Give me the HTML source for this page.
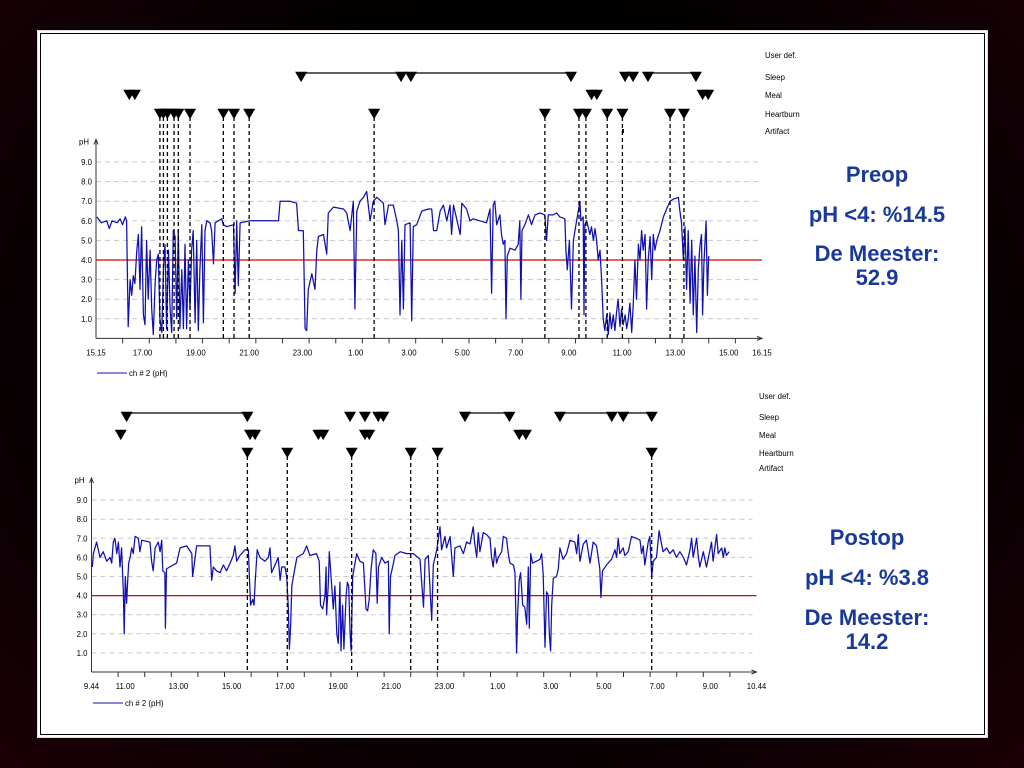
<!DOCTYPE html>
<html><head><meta charset="utf-8">
<style>
html,body{margin:0;padding:0;width:1024px;height:768px;overflow:hidden;background:#000;}
#bg{position:absolute;left:0;top:0;width:1024px;height:768px;background:radial-gradient(ellipse at 50% 45%, #000 55%, #1c0007 100%);}
#panel{position:absolute;left:37px;top:30px;width:949px;height:706px;background:#fff;border:1px solid #ddd;}
#inner{position:absolute;left:2px;top:2px;right:2px;bottom:2px;border:1px solid #000;}
svg{position:absolute;left:0;top:0;}
text{font-family:"Liberation Sans",sans-serif;}
.sm{font-size:7.8px;fill:#000;}
.big{font-size:22px;font-weight:bold;fill:#1a3a99;text-anchor:middle;}
</style></head>
<body>
<div id="bg"></div>
<div id="panel"><div id="inner"></div></div>
<svg id="chart" width="1024" height="768">
<text class="big" x="877" y="182">Preop</text>
<text class="big" x="877" y="222">pH &lt;4: %14.5</text>
<text class="big" x="877" y="261">De Meester:</text>
<text class="big" x="877" y="285">52.9</text>
<text class="big" x="867" y="545">Postop</text>
<text class="big" x="867" y="585">pH &lt;4: %3.8</text>
<text class="big" x="867" y="625">De Meester:</text>
<text class="big" x="867" y="649">14.2</text>
</svg>
<script>
// ---- Preop data (hours since 15:15) ----
const preT = [0.03,0.2,0.4,0.5,0.6,0.8,0.9,1.0,1.1,1.15,1.21,1.28,1.34,1.40,1.46,1.53,1.59,1.65,1.71,1.78,1.84,1.90,1.96,2.03,2.09,2.15,2.22,2.28,2.34,2.40,2.47,2.53,2.59,2.65,2.72,2.78,2.84,2.90,2.97,3.03,3.09,3.15,3.22,3.28,3.34,3.40,3.47,3.53,3.59,3.65,3.72,3.78,3.84,3.90,3.97,4.03,4.09,4.16,4.28,4.34,4.41,4.47,4.59,4.72,4.78,4.91,5.16,5.22,5.28,5.34,5.41,5.78,6.28,6.66,6.85,6.91,7.28,7.53,7.60,7.78,7.85,7.91,7.97,8.10,8.22,8.29,8.35,8.54,8.66,8.72,8.91,9.29,9.41,9.54,9.66,9.72,9.79,9.91,10.04,10.16,10.29,10.41,10.54,10.79,10.85,10.98,11.16,11.29,11.35,11.41,11.48,11.54,11.60,11.79,11.85,11.91,12.04,12.23,12.48,12.60,12.67,12.79,12.92,13.04,13.17,13.29,13.35,13.42,13.67,13.73,13.91,14.04,14.16,14.66,14.79,14.85,14.91,14.97,15.04,15.16,15.22,15.29,15.35,15.39,15.44,15.54,15.73,15.85,15.91,15.95,15.99,16.10,16.23,16.35,16.48,16.66,16.85,16.91,16.98,17.16,17.29,17.41,17.60,17.64,17.69,17.77,17.85,17.92,18.04,18.17,18.20,18.29,18.32,18.35,18.42,18.54,18.60,18.67,18.73,18.79,18.85,18.92,18.98,19.04,19.10,19.17,19.23,19.29,19.35,19.42,19.48,19.54,19.60,19.67,19.73,19.79,19.86,19.92,19.98,20.04,20.11,20.17,20.23,20.29,20.36,20.42,20.48,20.54,20.61,20.67,20.73,20.80,20.86,20.92,20.98,21.05,21.17,21.30,21.42,21.55,21.67,21.86,21.92,21.98,22.05,22.11,22.17,22.23,22.30,22.36,22.42,22.48,22.55,22.61,22.67,22.73,22.77,22.82,22.90,22.95,23.00];
const prePH = [6.2,5.9,6.0,5.6,6.0,5.9,6.1,5.8,6.2,6.0,0.6,3.0,2.2,3.2,2.8,4.5,5.3,2.5,5.7,1.2,0.7,5.0,2.0,4.5,1.5,0.2,2.8,4.0,4.3,1.0,0.3,3.5,4.8,0.5,4.5,1.5,0.3,5.5,5.2,1.0,5.5,0.5,3.5,0.5,4.8,0.5,4.0,1.5,4.5,5.5,0.8,5.0,0.4,3.5,5.8,0.8,5.5,6.0,5.9,5.5,3.8,5.9,6.0,6.1,5.8,5.7,5.8,2.3,6.0,2.7,5.9,6.0,6.0,6.0,6.0,7.0,7.0,6.9,5.5,5.5,0.5,0.4,2.5,3.3,2.5,4.5,5.2,5.3,4.3,6.4,6.7,6.6,6.4,5.5,7.0,1.5,6.5,7.0,7.2,7.5,6.0,7.0,7.2,6.9,5.8,6.8,6.8,6.0,5.5,1.2,5.0,1.5,5.8,5.9,0.9,5.7,5.8,6.5,6.6,6.6,5.5,5.5,6.5,6.8,6.0,6.8,5.3,6.8,5.3,6.9,6.6,6.0,6.1,5.9,6.6,2.3,6.8,7.0,5.8,6.3,5.3,4.8,5.0,1.0,4.2,4.6,4.5,4.8,6.0,2.0,5.5,5.8,6.3,5.8,6.3,6.4,6.3,5.0,6.3,6.3,6.4,6.2,6.1,4.5,3.5,5.0,1.5,5.0,6.0,7.0,6.0,6.2,1.2,5.8,6.0,5.3,5.7,5.0,5.6,5.0,4.0,4.5,3.0,1.0,0.4,1.2,0.2,1.3,0.5,1.2,0.4,1.3,2.0,0.6,1.5,0.7,1.2,0.5,1.0,1.8,0.3,1.8,4.0,2.0,4.8,4.0,5.5,4.5,5.3,1.5,4.0,5.2,3.0,5.3,4.5,5.0,5.5,6.2,6.6,7.0,7.1,7.2,6.5,5.9,4.0,5.7,2.5,5.5,1.8,5.0,1.2,4.2,0.3,3.5,4.7,5.3,1.2,3.8,6.0,2.2,4.2];
const preSleep = [7.70,11.45,11.82,17.83,19.86,20.16,20.72,22.52];
const preSleepSpans = [[7.70,11.45],[11.82,17.83],[20.72,22.52]];
const preMeal = [1.25,1.46,18.6,18.8,22.77,22.98];
const preHeartburn = [2.40,2.53,2.68,2.93,3.09,3.53,4.78,5.18,5.75,10.44,16.85,18.13,18.39,19.19,19.76,21.55,22.07];
const preArtifact = [19.78];
const preTickLabels = ["15.15","17.00","19.00","21.00","23.00","1.00","3.00","5.00","7.00","9.00","11.00","13.00","15.00","16.15"];
const preTickHours = [0,1.75,3.75,5.75,7.75,9.75,11.75,13.75,15.75,17.75,19.75,21.75,23.75,25];

// ---- Postop data (hours since 9:44) ----
const postT = [0.03,0.07,0.19,0.32,0.44,0.57,0.70,0.76,0.82,0.88,0.95,1.01,1.07,1.13,1.20,1.23,1.27,1.32,1.36,1.40,1.45,1.51,1.57,1.64,1.76,1.82,1.89,2.20,2.26,2.32,2.39,2.51,2.58,2.64,2.68,2.76,2.78,2.82,2.94,3.20,3.33,3.58,3.77,3.80,3.85,3.95,4.45,4.52,4.58,4.70,4.83,4.96,5.08,5.21,5.33,5.39,5.46,5.58,5.77,5.90,5.94,5.98,6.06,6.11,6.16,6.23,6.33,6.52,6.65,6.71,6.77,6.90,7.02,7.09,7.15,7.27,7.34,7.40,7.44,7.49,7.53,7.59,7.72,7.96,8.09,8.21,8.46,8.56,8.61,8.69,8.78,8.82,8.84,8.90,8.94,9.03,9.09,9.15,9.22,9.28,9.34,9.38,9.44,9.49,9.57,9.62,9.67,9.72,9.76,9.82,9.88,9.97,10.09,10.22,10.32,10.38,10.44,10.51,10.59,10.69,10.74,10.79,10.91,11.03,11.16,11.19,11.24,11.32,11.41,11.60,11.85,12.10,12.35,12.48,12.54,12.66,12.79,12.85,12.98,13.10,13.16,13.29,13.35,13.48,13.60,13.66,13.85,13.98,14.10,14.23,14.35,14.41,14.48,14.54,14.60,14.73,14.85,14.98,15.04,15.10,15.17,15.23,15.29,15.42,15.48,15.60,15.67,15.73,15.86,15.92,15.98,16.02,16.08,16.13,16.21,16.29,16.36,16.42,16.46,16.51,16.58,16.73,16.86,16.92,16.98,17.05,17.11,17.17,17.21,17.26,17.30,17.36,17.48,17.55,17.61,17.73,17.86,17.99,18.17,18.24,18.30,18.36,18.49,18.61,18.74,18.86,18.99,19.05,19.11,19.15,19.21,19.36,19.55,19.68,19.74,19.80,19.86,19.99,20.05,20.18,20.30,20.49,20.62,20.68,20.74,20.80,20.93,20.99,21.06,21.12,21.24,21.34,21.43,21.49,21.62,21.74,21.87,21.99,22.12,22.25,22.37,22.50,22.56,22.62,22.75,22.81,22.87,23.00,23.12,23.25,23.31,23.37,23.50,23.56,23.69,23.75,23.81,23.87,23.97];
const postPH = [5.5,6.2,6.8,6.0,6.3,5.8,6.0,5.7,6.8,7.0,6.2,6.8,5.5,6.5,4.1,2.0,5.0,3.6,4.8,5.7,6.0,6.5,6.2,7.1,7.0,6.3,6.9,6.8,5.8,5.3,6.5,6.8,6.3,6.9,5.3,5.2,2.3,5.4,5.5,5.7,6.5,6.6,6.2,5.0,5.5,6.6,6.6,4.8,5.5,5.3,5.2,5.6,5.3,5.7,6.1,6.6,5.8,6.1,6.4,6.4,4.8,3.5,3.8,3.5,4.9,6.4,6.0,5.8,6.0,6.5,5.2,5.6,6.0,4.8,5.5,5.5,5.0,3.4,1.2,2.5,4.5,5.0,6.0,6.2,6.6,6.1,6.2,5.8,3.5,3.3,4.0,5.5,3.0,4.5,6.3,4.5,3.3,4.5,2.0,1.5,4.7,1.1,3.5,1.2,4.0,4.7,4.5,2.0,1.1,5.0,5.5,6.2,5.8,5.7,3.3,3.2,3.8,5.4,6.4,6.2,3.6,5.5,6.0,5.7,5.8,2.0,5.0,5.5,6.1,6.3,6.2,6.2,5.9,3.4,5.9,6.1,2.7,5.6,6.4,7.6,6.4,7.1,6.5,7.1,5.0,6.5,6.6,6.2,6.8,6.7,7.6,6.7,6.0,7.3,6.3,7.3,7.2,7.0,6.0,5.5,6.5,5.7,6.0,6.3,7.1,7.0,6.2,5.7,5.6,5.2,1.0,3.0,4.8,5.2,3.5,3.4,2.5,5.5,2.3,6.2,5.7,5.8,5.9,6.2,5.1,1.3,4.2,4.0,2.0,1.1,3.5,4.9,5.0,5.4,6.5,5.9,6.2,6.9,6.8,6.2,7.2,5.8,6.7,6.9,5.7,6.8,6.6,6.0,5.4,3.9,5.3,5.6,5.9,6.4,6.0,7.0,6.2,6.5,6.1,6.3,7.1,7.0,6.9,6.2,6.6,5.6,6.8,7.1,5.0,5.8,6.0,7.4,6.7,6.3,6.5,6.2,6.4,6.0,6.3,6.0,5.6,6.4,7.0,6.0,7.0,6.1,5.5,6.3,5.5,6.4,6.8,5.8,7.2,6.2,6.5,6.0,6.5,6.1,6.3];
const postSleep = [1.32,5.86,9.72,10.28,10.78,10.97,14.04,15.71,17.61,19.56,19.99,21.06];
const postSleepSpans = [[1.32,5.86],[14.04,15.71],[17.61,19.56],[19.99,21.06]];
const postMeal = [1.10,5.96,6.15,8.53,8.71,10.28,10.44,16.08,16.33];
const postHeartburn = [5.86,7.36,9.78,12.0,13.01,21.06];
const postArtifact = [];
const postTickLabels = ["9.44","11.00","13.00","15.00","17.00","19.00","21.00","23.00","1.00","3.00","5.00","7.00","9.00","10.44"];
const postTickHours = [0,1.267,3.267,5.267,7.267,9.267,11.267,13.267,15.267,17.267,19.267,21.267,23.267,25];

const phTicks = [1,2,3,4,5,6,7,8,9];
const phTickLabels = ["1.0","2.0","3.0","4.0","5.0","6.0","7.0","8.0","9.0"];
const rowLabels = ["User def.","Sleep","Meal","Heartburn","Artifact"];

const NS = "http://www.w3.org/2000/svg";
const svg = document.getElementById('chart');
function mk(tag, attrs, parent){ const e=document.createElementNS(NS,tag); for(const k in attrs) e.setAttribute(k,attrs[k]); (parent||svg).appendChild(e); return e; }

function drawChart(cfg){
  const g = mk('g',{});
  
  
  const X = t => cfg.x0 + t*cfg.pxh;
  const Y = p => cfg.y0 - p*cfg.pxp;
  const xEnd = X(25);
  phTicks.forEach((p,i)=>{
    const l = mk('line',{x1:cfg.x0,x2:xEnd-4,y1:Y(p),y2:Y(p),stroke:'#c8c8c8','stroke-width':1,'stroke-dasharray':'5,4'},g);
    
    
    const tx = mk('text',{x:cfg.x0-4,y:Y(p)+3,'text-anchor':'end',class:'sm'},g);
    tx.textContent = phTickLabels[i];
    
    
  });
  const pl = mk('text',{x:cfg.x0-17,y:Y(10)+2,class:'sm'},g); pl.textContent='pH';
  
  
  const ya = mk('path',{d:`M${cfg.x0},${cfg.y0} V${Y(10)-3} M${cfg.x0-2},${Y(10)+2} L${cfg.x0},${Y(10)-3} L${cfg.x0+2},${Y(10)+2}`,stroke:'#333',fill:'none','stroke-width':1},g);
  
  
  const xa = mk('path',{d:`M${cfg.x0},${cfg.y0} H${xEnd} M${xEnd-5},${cfg.y0-2} L${xEnd},${cfg.y0} L${xEnd-5},${cfg.y0+2}`,stroke:'#333',fill:'none','stroke-width':1},g);
  
  
  for(let h=Math.ceil(cfg.firstWhole); X(h)<xEnd-3; h+=1){
    const tk = mk('line',{x1:X(h),x2:X(h),y1:cfg.y0,y2:cfg.y0+5,stroke:'#333'},g);
    
    
  }
  cfg.tickLabels.forEach((lab,i)=>{
    const tx = mk('text',{x:X(cfg.tickHours[i]),y:cfg.y0+17,'text-anchor':'middle',class:'sm'},g);
    tx.textContent = lab;
    
    
  });
  const rl = mk('line',{x1:cfg.x0,x2:xEnd,y1:Y(4),y2:Y(4),stroke:'#e00000','stroke-width':1.2},g);
  
  
  rowLabels.forEach((r,i)=>{
    const tx = mk('text',{x:cfg.labelX,y:cfg.rowY[i]+3,class:'sm'},g);
    tx.textContent = r;
    
    
  });
  let d='';
  cfg.t.forEach((t,i)=>{ d += (i?'L':'M')+X(t).toFixed(1)+','+Y(cfg.ph[i]).toFixed(1); });
  const s = mk('path',{d:d,stroke:'#1010b0',fill:'none','stroke-width':1.25,'stroke-linejoin':'round'},g);
  
  
  cfg.heartburn.forEach(t=>{
    const l = mk('line',{x1:X(t),x2:X(t),y1:cfg.rowY[3]+3,y2:cfg.y0,stroke:'#000','stroke-width':1.3,'stroke-dasharray':'4,3'},g);
    
    
  });
  cfg.sleepSpans.forEach(sp=>{
    const l = mk('line',{x1:X(sp[0]),x2:X(sp[1]),y1:cfg.rowY[1]-4,y2:cfg.rowY[1]-4,stroke:'#000','stroke-width':1.3},g);
    
    
  });
  const tri = (t,y,nm)=>{
    const x=X(t);
    const p = mk('path',{d:`M${x-5.5},${y-5} L${x+5.5},${y-5} L${x},${y+4.5} Z`,fill:'#000',stroke:'#000','stroke-width':0.6},g);
    
    
  };
  cfg.sleep.forEach(t=>tri(t,cfg.rowY[1],'sleep-marker'));
  cfg.meal.forEach(t=>tri(t,cfg.rowY[2],'meal-marker'));
  cfg.heartburn.forEach(t=>tri(t,cfg.rowY[3],'heartburn-marker'));
  cfg.artifact.forEach(t=>{
    const x=X(t);
    const p = mk('rect',{x:x-1,y:cfg.rowY[4]-2,width:2,height:4,fill:'#000'},g);
    
    
  });
  const ll = mk('line',{x1:cfg.legX,x2:cfg.legX+30,y1:cfg.legY,y2:cfg.legY,stroke:'#1010b0','stroke-width':1},g);
  
  
  const lt = mk('text',{x:cfg.legX+32,y:cfg.legY+3,class:'sm'},g);
  lt.textContent = 'ch # 2 (pH)';
  
  
}

drawChart({name:'preop-chart',x0:96,pxh:26.64,y0:338.4,pxp:19.6,firstWhole:0.75,t:preT,ph:prePH,
  sleep:preSleep,sleepSpans:preSleepSpans,meal:preMeal,heartburn:preHeartburn,artifact:preArtifact,
  tickLabels:preTickLabels,tickHours:preTickHours,labelX:765,rowY:[55,77,95,114,131],legX:97,legY:373});
drawChart({name:'postop-chart',x0:91.5,pxh:26.6,y0:672,pxp:19.1,firstWhole:0.267,t:postT,ph:postPH,
  sleep:postSleep,sleepSpans:postSleepSpans,meal:postMeal,heartburn:postHeartburn,artifact:postArtifact,
  tickLabels:postTickLabels,tickHours:postTickHours,labelX:759,rowY:[396,417,435,453,468],legX:93,legY:703});
</script>
</body></html>
